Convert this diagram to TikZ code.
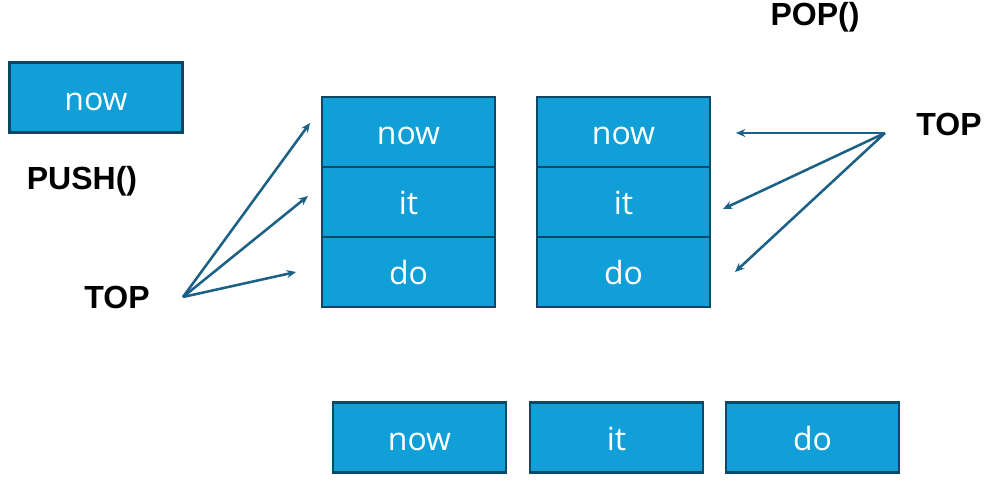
\documentclass[tikz,border=0pt]{standalone}
\usepackage{fontspec}
\setmainfont{Open Sans}
\newfontfamily\labelfont{Liberation Sans}
\usepackage{tikz}
\usetikzlibrary{positioning,arrows.meta}
\definecolor{cellfill}{HTML}{109FD6}
\definecolor{cellline}{HTML}{0B4866}
\definecolor{arrowcol}{HTML}{1B6085}
\tikzset{
  cell/.style={draw=cellline, fill=cellfill, line width=1.6pt, minimum width=173*0.75pt, minimum height=70*0.75pt, outer sep=0pt, inner sep=0pt, text height=19pt, text depth=0pt, text=white, font=\fontsize{24}{28}\selectfont},
  oplabel/.style={font=\labelfont\bfseries\fontsize{24}{28}\selectfont},
  toparrow/.style={draw=arrowcol, line width=1.9pt, -{Stealth[length=7pt,width=6pt]}}
}
\begin{document}
\begin{tikzpicture}[x=0.75pt,y=-0.75pt]
\useasboundingbox (0,0) rectangle (1001,488);
% element waiting to be pushed
\node[cell] (new) at (96,97.5) {now};
\node[oplabel] (push) at (82,181) {PUSH()};
% stack after push
\node[cell] (a1) at (408.5,132) {now};
\node[cell, below=0pt of a1] (a2) {it};
\node[cell, below=0pt of a2] (a3) {do};
% stack before pop
\node[cell] (b1) at (623.5,132) {now};
\node[cell, below=0pt of b1] (b2) {it};
\node[cell, below=0pt of b2] (b3) {do};
\node[oplabel] (pop) at (815,17) {POP()};
% popped elements
\node[cell] (c1) at (419.5,437.5) {now};
\node[cell] (c2) at (616.5,437.5) {it};
\node[cell] (c3) at (812.5,437.5) {do};
% top pointers
\node[oplabel] (topl) at (117,297) {TOP};
\coordinate (tl) at (183,297);
\coordinate (tl1) at (310,123);
\coordinate (tl2) at (308,196);
\coordinate (tl3) at (296,272);
\draw[toparrow] (tl) -- (tl1);
\draw[toparrow] (tl) -- (tl2);
\draw[toparrow] (tl) -- (tl3);
\node[oplabel] (topr) at (949,124) {TOP};
\coordinate (tr) at (885,133);
\coordinate (tr1) at (736,133);
\coordinate (tr2) at (723,209);
\coordinate (tr3) at (735,272);
\draw[toparrow] (tr) -- (tr1);
\draw[toparrow] (tr) -- (tr2);
\draw[toparrow] (tr) -- (tr3);
\end{tikzpicture}
\end{document}
